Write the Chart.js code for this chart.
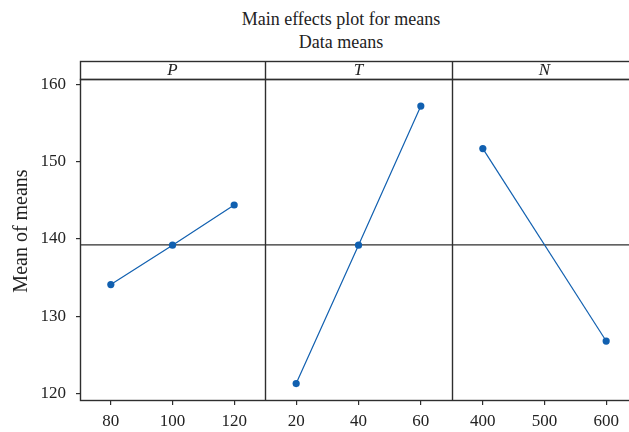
<!DOCTYPE html>
<html>
<head>
<meta charset="utf-8">
<script src="https://cdn.jsdelivr.net/npm/chart.js@4"></script>
<style>
  html, body { margin: 0; padding: 0; background: #fff; overflow: hidden; }
  #wrap { position: relative; width: 629px; height: 432px; overflow: hidden; }
  canvas { position: absolute; top: 0; }
  .title { position: absolute; left: 0; top: 8px; width: 682px; text-align: center;
           font-family: 'Liberation Serif', serif; font-size: 18px; line-height: 23px; color: #222; }
</style>
</head>
<body>
<div id="wrap">
  <div class="title">Main effects plot for means<br>Data means</div>
  <canvas id="cP" width="265" height="432" style="left:0px"></canvas>
  <canvas id="cT" width="187" height="432" style="left:265px"></canvas>
  <canvas id="cN" width="190" height="432" style="left:452px"></canvas>
</div>
<script>
// data
const yTicks = [120, 130, 140, 150, 160];
const grandMean = 139.25;

const pLevels = [80, 100, 120];
const pMeans = [134.1, 139.2, 144.4];

const tLevels = [20, 40, 60];
const tMeans = [121.3, 139.2, 157.2];

const nLevels = [400, 600];
const nMeans = [151.7, 126.8];
const nTicks = [400, 500, 600];

const blue = '#1160b0';
const ink = '#2e2e2e';
const serif = 'Liberation Serif';

const framePlugin = {
  id: 'frame',
  afterDraw(chart, args, opts) {
    const { ctx, chartArea: a } = chart;
    ctx.save();
    ctx.strokeStyle = ink;
    ctx.lineWidth = 1.4;
    // panel box
    ctx.strokeRect(a.left + 0.5, a.top + 0.5, a.right - a.left, a.bottom - a.top);
    // header strip
    ctx.strokeRect(a.left + 0.5, 61.5, a.right - a.left, a.top - 61);
    ctx.fillStyle = '#222';
    ctx.font = 'italic 17px "' + serif + '"';
    ctx.textAlign = 'center';
    ctx.textBaseline = 'middle';
    ctx.fillText(opts.label, (a.left + a.right) / 2, 70.5);
    if (opts.yTitle) {
      ctx.translate(21.5, 231);
      ctx.rotate(-Math.PI / 2);
      ctx.font = '20px "' + serif + '"';
      ctx.fillText(opts.yTitle, 0, 0);
    }
    ctx.restore();
  }
};

function makePanel(id, label, levels, means, ticks, xMin, xMax, showY, padRight) {
  const points = levels.map((x, i) => ({ x: x, y: means[i] }));
  return new Chart(document.getElementById(id), {
    type: 'line',
    data: {
      datasets: [
        {
          data: points,
          borderColor: blue,
          borderWidth: 1.2,
          pointRadius: 3.6,
          pointBackgroundColor: blue,
          pointBorderWidth: 0
        },
        {
          data: [{ x: xMin, y: grandMean }, { x: xMax, y: grandMean }],
          borderColor: ink,
          borderWidth: 1.3,
          pointRadius: 0
        }
      ]
    },
    options: {
      responsive: false,
      animation: false,
      layout: { autoPadding: false, padding: { top: 79, left: 0, right: padRight, bottom: 0 } },
      plugins: {
        legend: { display: false },
        tooltip: { enabled: false },
        frame: { label: label, yTitle: showY ? 'Mean of means' : null }
      },
      scales: {
        x: {
          type: 'linear',
          min: xMin,
          max: xMax,
          afterBuildTicks: s => { s.ticks = ticks.map(v => ({ value: v })); },
          afterFit: s => { s.height = 32; s.paddingLeft = 0; s.paddingRight = 0; },
          border: { display: false },
          grid: { drawOnChartArea: false, tickLength: 5, color: ink, lineWidth: 1.2 },
          ticks: { padding: 6, color: '#222', font: { family: serif, size: 17 } }
        },
        y: {
          display: showY,
          min: 119.17,
          max: 160.7,
          afterBuildTicks: s => { s.ticks = yTicks.map(v => ({ value: v })); },
          afterFit: s => { s.width = showY ? 80 : 0; s.paddingTop = 0; s.paddingBottom = 0; },
          border: { display: false },
          grid: { drawOnChartArea: false, tickLength: 4, color: ink, lineWidth: 1.2 },
          ticks: { padding: 10, color: '#222', font: { family: serif, size: 17 } }
        }
      }
    },
    plugins: [framePlugin]
  });
}

makePanel('cP', 'P', pLevels, pMeans, pLevels, 70, 130, true, 0);
makePanel('cT', 'T', tLevels, tMeans, tLevels, 10, 70, false, 0);
makePanel('cN', 'N', nLevels, nMeans, nTicks, 350, 650, false, 5);
</script>
</body>
</html>
